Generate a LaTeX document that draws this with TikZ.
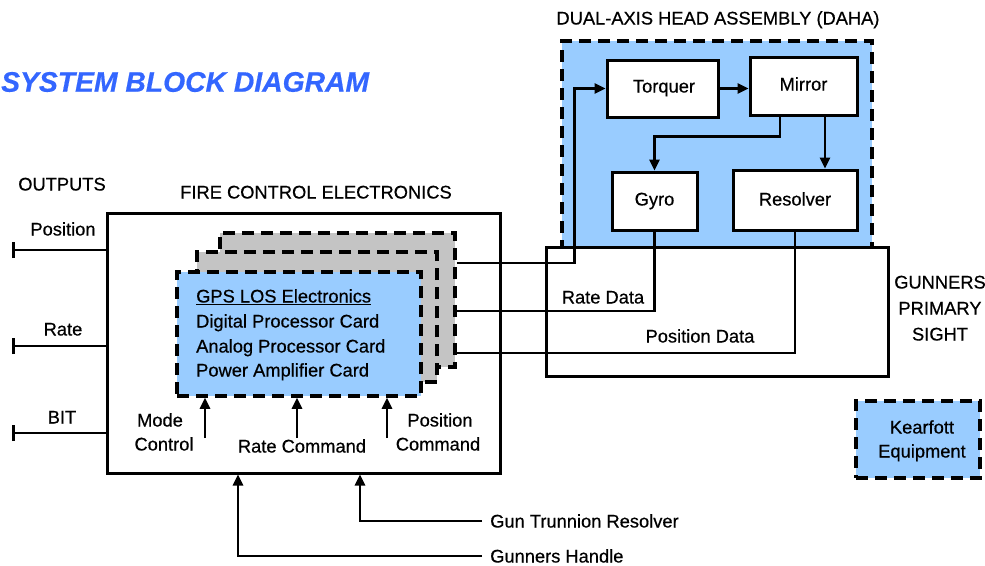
\documentclass[tikz,border=0pt]{standalone}
\usepackage{fontspec}
\setmainfont{Liberation Sans}[FakeBold=0.5]
\usetikzlibrary{arrows.meta}
\definecolor{lblue}{HTML}{99CCFF}
\definecolor{cgray}{HTML}{C4C4C4}
\definecolor{tblue}{HTML}{3366FF}
\tikzset{
  lbl/.style={inner sep=0pt, text height=13pt, text depth=0pt, font=\fontsize{18.3}{22}\selectfont},
  blk/.style={draw, line width=3pt, fill=white, inner sep=0pt, font=\fontsize{18}{22}\selectfont},
  dbox/.style={draw, line width=3.5pt, dash pattern=on 12pt off 7pt, inner sep=0pt},
  conn/.style={line width=2.5pt},
  arr/.style={conn, -{Triangle[length=11pt,width=10pt]}},
  outarr/.style={conn, {Bar[width=16pt,line width=3pt]}-},
}
\begin{document}
\begin{tikzpicture}[x=1pt,y=-1pt]
\useasboundingbox (0,0) rectangle (985,565);
% title
\node[anchor=west, inner sep=0pt, text=tblue, font=\fontsize{28.3}{32}\selectfont\bfseries\itshape] (title) at (1,82) {SYSTEM BLOCK DIAGRAM};
% labels
\node[lbl] (outputs) at (62,184) {OUTPUTS};
\node[lbl] (fcelbl) at (316,192) {FIRE CONTROL ELECTRONICS};
\node[lbl] (dahalbl) at (718,18) {DUAL-AXIS HEAD ASSEMBLY (DAHA)};
% DAHA
\node[dbox, fill=lblue, minimum width=310pt, minimum height=207pt] (daha) at (717,144.5) {};
% GPS box
\node[blk, minimum width=342pt, minimum height=129pt] (gps) at (717,311.5) {};
% inner DAHA blocks
\node[blk, minimum width=111pt, minimum height=57pt] (torq) at (662.5,88.5) {};
\node[lbl] (torqt) at (664,86) {Torquer};
\node[blk, minimum width=107pt, minimum height=58pt] (mirror) at (803.5,86) {};
\node[lbl] (mirrort) at (803.5,84) {Mirror};
\node[blk, minimum width=85pt, minimum height=58pt] (gyro) at (654.5,201) {};
\node[lbl] (gyrot) at (654.5,199) {Gyro};
\node[blk, minimum width=124pt, minimum height=60pt] (resolver) at (795,200) {};
\node[lbl] (resolvert) at (795,199) {Resolver};
% FCE box
\node[blk, minimum width=393pt, minimum height=260pt] (fce) at (303.5,343) {};
% cards
\node[dbox, fill=cgray, minimum width=235pt, minimum height=134pt] (cardC) at (337.5,300) {};
\node[dbox, fill=cgray, minimum width=240pt, minimum height=130pt] (cardB) at (317,317) {};
\node[dbox, fill=lblue, minimum width=244pt, minimum height=124pt] (cardA) at (299,334) {};
\node[lbl, anchor=west] (c1) at (196,296) {\underline{GPS LOS Electronics}};
\node[lbl, anchor=west] (c2) at (196,321) {Digital Processor Card};
\node[lbl, anchor=west] (c3) at (196,346) {Analog Processor Card};
\node[lbl, anchor=west] (c4) at (196,370) {Power Amplifier Card};
% outputs
\node[lbl] (posl) at (63,229) {Position};
\node[lbl] (ratel) at (63,329) {Rate};
\node[lbl] (bitl) at (62,417) {BIT};
\coordinate (op) at (12,250);
\coordinate (or) at (12,346);
\coordinate (ob) at (12,433);
\draw[outarr] (op) -- (op -| fce.west);
\draw[outarr] (or) -- (or -| fce.west);
\draw[outarr] (ob) -- (ob -| fce.west);
% card inputs
\node[lbl] (model) at (160,420) {Mode};
\node[lbl] (controll) at (164,444) {Control};
\node[lbl] (ratecmd) at (302,446) {Rate Command};
\node[lbl] (posc1) at (440,420) {Position};
\node[lbl] (posc2) at (438,444) {Command};
\coordinate (mc) at (205,438);
\coordinate (rc) at (297,438);
\coordinate (pc) at (387,438);
\draw[arr] (mc) -- (mc |- cardA.south);
\draw[arr] (rc) -- (rc |- cardA.south);
\draw[arr] (pc) -- (pc |- cardA.south);
% bottom inputs
\node[lbl, anchor=west] (gtr) at (490,521) {Gun Trunnion Resolver};
\node[lbl, anchor=west] (gh) at (490,556) {Gunners Handle};
\draw[arr] ([xshift=-8pt]gtr.west) -| ([xshift=56.5pt]fce.south);
\draw[arr] ([xshift=-8pt]gh.west) -| ([xshift=-65.5pt]fce.south);
% card to DAHA lines
\draw[arr] ([yshift=37pt]cardC.east) -| ([xshift=-31pt]torq.west) -- (torq.west);
\draw[conn] ([yshift=-11pt]cardC.east) -| (gyro.south);
\draw[conn] ([yshift=-53pt]cardC.east) -| (resolver.south);
% DAHA internal
\draw[arr] (torq.east) -- (torq.east -| mirror.west);
\draw[arr] ([xshift=-23.5pt]mirror.south) -- ++(0,20) -| (gyro.north);
\draw[arr] ([xshift=21.5pt]mirror.south) -- ([xshift=21.5pt]mirror.south |- resolver.north);
% data labels
\node[lbl] (ratedata) at (603,297) {Rate Data};
\node[lbl] (posdata) at (700,336) {Position Data};
% GPS label
\node[lbl] (gps1) at (940,282) {GUNNERS};
\node[lbl] (gps2) at (940,308) {PRIMARY};
\node[lbl] (gps3) at (940,334) {SIGHT};
% Kearfott
\node[dbox, fill=lblue, minimum width=124pt, minimum height=77pt] (kear) at (918,439.5) {};
\node[lbl] (k1) at (922,427) {Kearfott};
\node[lbl] (k2) at (922,451) {Equipment};
\end{tikzpicture}
\end{document}
